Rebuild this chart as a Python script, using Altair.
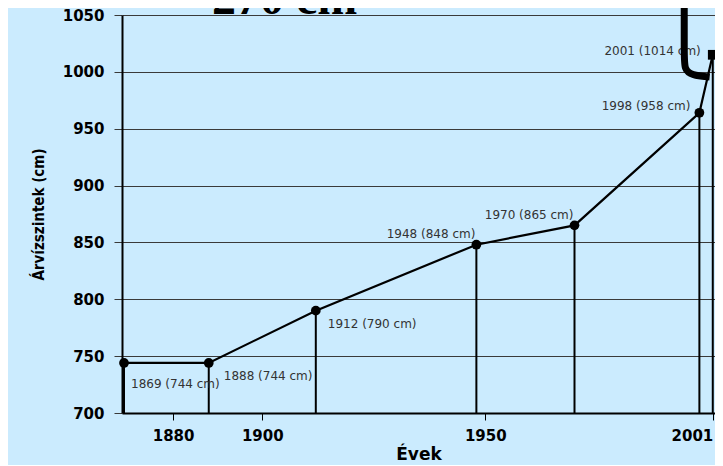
import altair as alt
import pandas as pd

# ---- data ----
YEARS = [1869, 1888, 1912, 1948, 1970, 1998, 2001]
LEVELS = [744, 744, 790, 848, 865, 964, 1015]          # plotted positions
LABELS = ["1869 (744 cm)", "1888 (744 cm)", "1912 (790 cm)", "1948 (848 cm)",
          "1970 (865 cm)", "1998 (958 cm)", "2001 (1014 cm)"]
MARKERS = ["circle", "circle", "circle", "circle", "circle", "circle", "square"]
X_TICKS = [1880, 1900, 1950, 2001]
Y_TICKS = [700, 750, 800, 850, 900, 950, 1000, 1050]
HEADLINE = ["270 cm"]
HEADLINE_YEAR = [1888.7]
HEADLINE_LEVEL = [1051]
ARROW_YEARS = [1994.6, 1994.6, 1994.6, 1996.3, 2000.3]
ARROW_LEVELS = [1075, 1016, 1002, 997, 995.5]

# ---- styles (kept apart from the data) ----
LABEL_STYLE = [(7, 21, "left"), (15, 13, "left"), (12, 13, "left"),
               (-1, -11, "right"), (-1, -10, "right"), (-9, -7, "right"),
               (-12, -4, "right")]
BG = "#CBEBFE"
TICK_FONT = "DejaVu Sans"
NARROW_FONT = "Liberation Sans Narrow, DejaVu Sans Condensed, Roboto Condensed, Liberation Sans, sans-serif"
SERIF_FONT = "Liberation Serif, Times New Roman, Tinos, serif"

df = pd.DataFrame({"year": YEARS, "level": LEVELS, "label": LABELS,
                   "marker": MARKERS})
arrow_df = pd.DataFrame({"year": ARROW_YEARS, "level": ARROW_LEVELS,
                         "idx": list(range(len(ARROW_YEARS)))})
head_df = pd.DataFrame({"year": HEADLINE_YEAR, "level": HEADLINE_LEVEL,
                        "txt": HEADLINE})

x_enc = alt.X("year:Q",
              scale=alt.Scale(domain=[1868.55, 2001.5], nice=False, zero=False),
              axis=alt.Axis(values=X_TICKS, format="d", title="Évek",
                            grid=False, labelFont=TICK_FONT, labelFontWeight="bold",
                            labelFontSize=15, labelColor="black",
                            tickColor="black", tickSize=7, tickWidth=1,
                            domainColor="black", domainWidth=2,
                            labelPadding=8, labelFlush=5,
                            titleFont=TICK_FONT, titleFontSize=17,
                            titleFontWeight="bold", titleColor="black",
                            titlePadding=3))
y_enc = alt.Y("level:Q",
              scale=alt.Scale(domain=[700, 1050], nice=False, zero=False),
              axis=alt.Axis(values=Y_TICKS, format="d", title="Árvízszintek (cm)",
                            grid=True, gridColor="#3a3a3a", gridWidth=1,
                            labelFont=TICK_FONT, labelFontWeight="bold",
                            labelFontSize=15, labelColor="black",
                            tickColor="#3a3a3a", tickSize=8, tickWidth=1,
                            domainColor="black", domainWidth=2,
                            labelPadding=10,
                            titleFont=NARROW_FONT, titleFontSize=15,
                            titleFontWeight="bold", titleColor="black",
                            titlePadding=16))

base = alt.Chart(df)

drops = base.mark_rule(color="black", strokeWidth=2).encode(
    x=x_enc, y=y_enc, y2=alt.datum(700))

line = base.mark_line(color="black", strokeWidth=2.2).encode(
    x="year:Q", y="level:Q", order="year:Q")

points = base.mark_point(filled=True, color="black", opacity=1, size=95).encode(
    x="year:Q", y="level:Q",
    shape=alt.Shape("marker:N", legend=None,
                    scale=alt.Scale(domain=["circle", "square"],
                                    range=["circle", "square"])))

labels = []
for yr, (dx, dy, al) in zip(YEARS, LABEL_STYLE):
    labels.append(
        base.transform_filter(alt.datum.year == yr)
        .mark_text(dx=dx, dy=dy, align=al, baseline="middle",
                   font=TICK_FONT, fontSize=12, color="#333333")
        .encode(x="year:Q", y="level:Q", text="label:N"))

arrow = alt.Chart(arrow_df).mark_line(
    color="black", strokeWidth=7, interpolate="basis", strokeCap="butt").encode(
    x="year:Q", y="level:Q", order="idx:Q")

headline = alt.Chart(head_df).mark_text(
    align="left", baseline="alphabetic", font=SERIF_FONT,
    fontWeight="bold", fontSize=48, color="black").encode(
    x="year:Q", y="level:Q", text="txt:N")

chart = alt.layer(drops, line, points, *labels, arrow, headline).properties(
    width=593, height=398,
    padding={"left": 114, "top": 7, "right": 0, "bottom": 52},
    autosize=alt.AutoSizeParams(type="none"),
    background=BG,
).configure_view(strokeWidth=0)

chart.save("out.html", embed_options={"renderer": "svg", "actions": False})
